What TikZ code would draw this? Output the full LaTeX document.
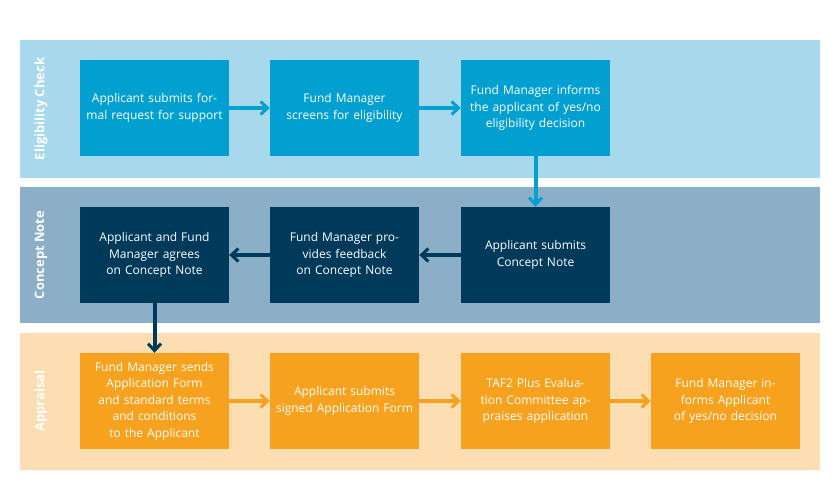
\documentclass[tikz,border=0pt]{standalone}
\usepackage{fontspec}
\setmainfont{Open Sans}
\usetikzlibrary{arrows.meta}
\definecolor{bandA}{HTML}{A8D8EB}
\definecolor{bandB}{HTML}{8AAFC7}
\definecolor{bandC}{HTML}{FDDEB2}
\definecolor{boxA}{HTML}{02A0D0}
\definecolor{boxB}{HTML}{003A5A}
\definecolor{boxC}{HTML}{F7A21E}
\begin{document}
\begin{tikzpicture}[x=1pt,y=-1pt,
  box/.style={minimum width=149pt,minimum height=96pt,inner sep=2pt,text width=140pt,align=center,text=white,font=\fontsize{12}{16.5}\selectfont},
  lab/.style={rotate=90,text=white,font=\bfseries\fontsize{13}{15}\selectfont},
  arr/.style={line width=4pt,-{Straight Barb[length=7pt,width=13pt,line width=3pt]}}]
\useasboundingbox (0,0) rectangle (840,493);
\fill[white] (0,0) rectangle (840,493);
\fill[bandA] (20,40) rectangle (820,178);
\fill[bandB] (20,187) rectangle (820,323);
\fill[bandC] (20,333) rectangle (820,470);
\node[lab] (l1) at (41,109) {Eligibility Check};
\node[lab] (l2) at (41,255) {Concept Note};
\node[lab] (l3) at (41,401) {Appraisal};
\node[box,fill=boxA] (a1) at (154.5,108) {Applicant submits formal request for support};
\node[box,fill=boxA] (a2) at (344.5,108) {Fund Manager screens for eligibility};
\node[box,fill=boxA] (a3) at (535.5,108) {Fund Manager informs the applicant of yes/no eligibility decision};
\node[box,fill=boxB] (b1) at (154.5,255) {Applicant and Fund Manager agrees on Concept Note};
\node[box,fill=boxB] (b2) at (344.5,255) {Fund Manager provides feedback on Concept Note};
\node[box,fill=boxB] (b3) at (535.5,255) {Applicant submits Concept Note};
\node[box,fill=boxC] (c1) at (154.5,401) {Fund Manager sends Application Form and standard terms and conditions to the Applicant};
\node[box,fill=boxC] (c2) at (344.5,401) {Applicant submits signed Application Form};
\node[box,fill=boxC] (c3) at (535.5,401) {TAF2 Plus Evaluation Committee appraises application};
\node[box,fill=boxC] (c4) at (725.5,401) {Fund Manager informs Applicant of yes/no decision};
\draw[arr,boxA] (a1) -- (a2);
\draw[arr,boxA] (a2) -- (a3);
\draw[arr,boxA] (a3) -- (b3);
\draw[arr,boxB] (b3) -- (b2);
\draw[arr,boxB] (b2) -- (b1);
\draw[arr,boxB] (b1) -- (c1);
\draw[arr,boxC] (c1) -- (c2);
\draw[arr,boxC] (c2) -- (c3);
\draw[arr,boxC] (c3) -- (c4);
\end{tikzpicture}
\end{document}
